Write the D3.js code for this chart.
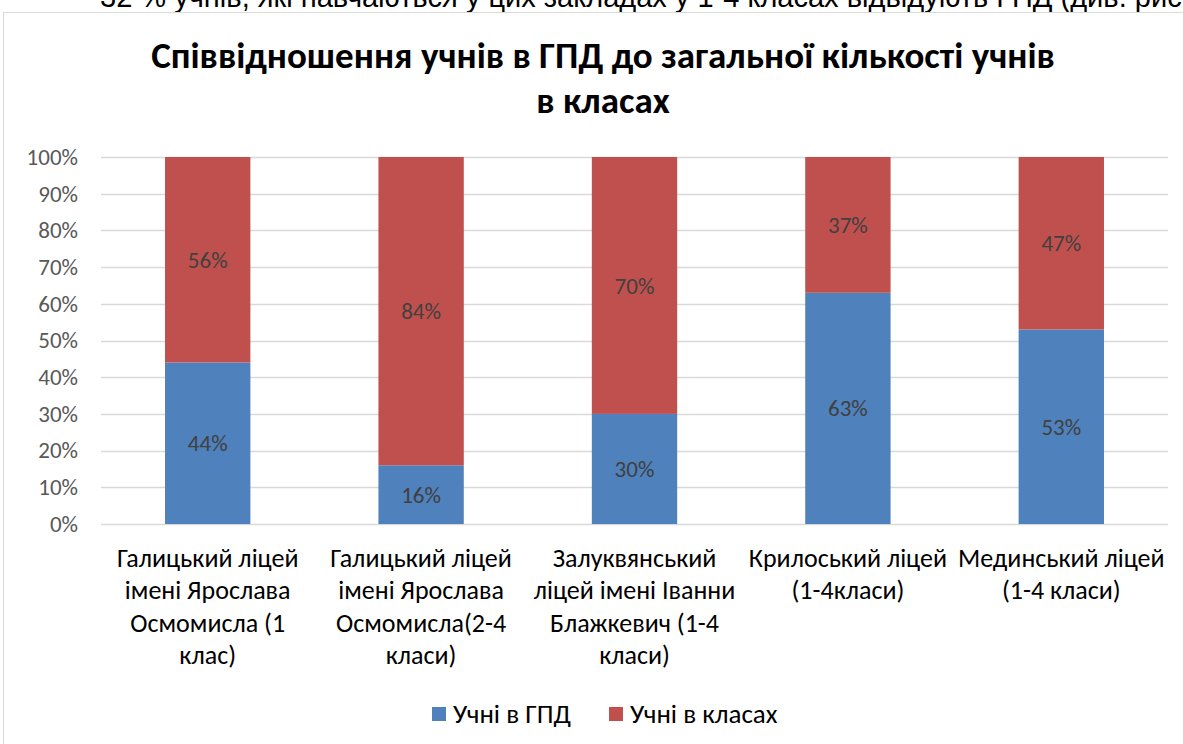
<!DOCTYPE html>
<html>
<head>
<meta charset="utf-8">
<script src="https://cdn.jsdelivr.net/npm/d3@7"></script>
<style>
  body { margin: 0; background: #fff; }
  svg { display: block; }
</style>
</head>
<body>
<svg id="chart" width="1183" height="744"></svg>
<script>
// values
var schools = [
  ["Галицький ліцей", "імені Ярослава", "Осмомисла (1", "клас)"],
  ["Галицький ліцей", "імені Ярослава", "Осмомисла(2-4", "класи)"],
  ["Залуквянський", "ліцей імені Іванни", "Блажкевич (1-4", "класи)"],
  ["Крилоський ліцей", "(1-4класи)"],
  ["Мединський ліцей", "(1-4 класи)"]
];
var gpd = [44, 16, 30, 63, 53];
var inClass = [56, 84, 70, 37, 47];
var seriesNames = ["Учні в ГПД", "Учні в класах"];
var yTicks = [0, 10, 20, 30, 40, 50, 60, 70, 80, 90, 100];

var colors = ["#4F81BD", "#C0504D"];
var font = "Carlito, Calibri, 'Open Sans', sans-serif";

var svg = d3.select("#chart");

// cut-off line of document text above the chart
svg.append("text")
  .attr("x", 100).attr("y", 7)
  .style("font-family", "'Liberation Sans Narrow', 'Arial Narrow', sans-serif")
  .style("font-size", "29px")
  .attr("fill", "#000")
  .text("32 % учнів, які навчаються у цих закладах у 1-4 класах відвідують ГПД (див. рис.");

// chart frame
svg.append("rect")
  .attr("x", 3.5).attr("y", 12.5)
  .attr("width", 1200).attr("height", 760)
  .attr("fill", "#fff")
  .attr("stroke", "#D9D9D9");

// title
var title = svg.append("text")
  .attr("text-anchor", "middle")
  .style("font-family", font)
  .style("font-size", "37px")
  .style("font-weight", "bold")
  .attr("fill", "#000");
title.append("tspan").attr("x", 603).attr("y", 68).text("Співвідношення учнів в ГПД до загальної кількості учнів");
title.append("tspan").attr("x", 603).attr("y", 113).text("в класах");

var plotLeft = 101, plotRight = 1168, plotTop = 157, plotBottom = 524;

var x = d3.scaleBand()
  .domain(d3.range(schools.length))
  .range([plotLeft, plotRight])
  .paddingInner(0.6)
  .paddingOuter(0.3);

var y = d3.scaleLinear().domain([0, 100]).range([plotBottom, plotTop]);

// gridlines
svg.append("g").selectAll("line")
  .data(yTicks)
  .enter()
  .append("line")
  .attr("x1", plotLeft).attr("x2", plotRight)
  .attr("y1", function(d){ return Math.round(y(d)) + 0.5; })
  .attr("y2", function(d){ return Math.round(y(d)) + 0.5; })
  .attr("stroke", "#D9D9D9")
  .attr("stroke-width", 1.3);

// y axis labels
var yAxis = d3.axisLeft(y).tickValues(yTicks).tickFormat(function(d){ return d + "%"; }).tickSize(0).tickPadding(0);
var gy = svg.append("g").attr("transform", "translate(78,0)").call(yAxis);
gy.select(".domain").remove();
gy.selectAll("text")
  .style("font-family", font)
  .style("font-size", "23px")
  .attr("fill", "#595959");

// stacked data
var rows = gpd.map(function(d, i){ return {i: i, a: d, b: inClass[i]}; });
var stack = d3.stack().keys(["a", "b"])(rows);

var layers = svg.append("g").selectAll("g")
  .data(stack)
  .enter()
  .append("g")
  .attr("fill", function(d, k){ return colors[k]; });

layers.selectAll("rect")
  .data(function(d){ return d; })
  .enter()
  .append("rect")
  .attr("x", function(d){ return x(d.data.i); })
  .attr("width", x.bandwidth())
  .attr("y", function(d){ return y(d[1]); })
  .attr("height", function(d){ return y(d[0]) - y(d[1]); });

layers.selectAll("text")
  .data(function(d){ return d; })
  .enter()
  .append("text")
  .attr("x", function(d){ return x(d.data.i) + x.bandwidth() / 2; })
  .attr("y", function(d){ return (y(d[0]) + y(d[1])) / 2; })
  .attr("dy", "0.35em")
  .attr("text-anchor", "middle")
  .style("font-family", font)
  .style("font-size", "23px")
  .attr("fill", "#404040")
  .text(function(d){ return (d[1] - d[0]) + "%"; });

// category labels
var cats = svg.append("g").selectAll("text")
  .data(schools)
  .enter()
  .append("text")
  .attr("text-anchor", "middle")
  .style("font-family", font)
  .style("font-size", "26px")
  .attr("fill", "#000");

cats.each(function(lines, i){
  var t = d3.select(this);
  lines.forEach(function(line, j){
    t.append("tspan")
      .attr("x", x(i) + x.bandwidth() / 2)
      .attr("y", 567 + j * 32.3)
      .text(line);
  });
});

// legend
var legendX = [432, 609];
var legend = svg.append("g").selectAll("g")
  .data(seriesNames)
  .enter()
  .append("g")
  .attr("transform", function(d, i){ return "translate(" + legendX[i] + ",707)"; });

legend.append("rect")
  .attr("width", 14).attr("height", 14)
  .attr("fill", function(d, i){ return colors[i]; });

legend.append("text")
  .attr("x", 21).attr("y", 7)
  .attr("dy", "0.35em")
  .style("font-family", font)
  .style("font-size", "27px")
  .attr("fill", "#000")
  .text(function(d){ return d; });
</script>
</body>
</html>
